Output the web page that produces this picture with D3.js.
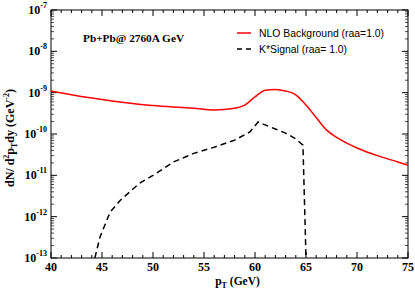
<!DOCTYPE html>
<html>
<head>
<meta charset="utf-8">
<script src="https://cdn.jsdelivr.net/npm/d3@7"></script>
<style>
  body { margin: 0; background: #fff; }
  svg { display: block; }
  .tick-label { font-family: "Liberation Serif", "Times New Roman", serif; font-weight: bold; font-size: 12px; }
  .legend { font-family: "Liberation Sans", Arial, sans-serif; font-size: 10.4px; }
</style>
</head>
<body>
<svg id="chart"></svg>
<script>
// chart size and plot frame
const W = 415, H = 289;
const margin = { top: 10, right: 7, bottom: 31, left: 51 };
const width = W - margin.left - margin.right;
const height = H - margin.top - margin.bottom;

// data (pT in GeV, yield in GeV^-2)
const bgPt = [40, 42, 44, 46, 48, 50, 52, 54, 56, 58, 59, 60, 61, 62, 63, 64, 65, 66, 67, 68, 69, 70, 72, 74, 75];
const bgYield = [1.1e-9, 8.9e-10, 7.4e-10, 6.3e-10, 5.5e-10, 4.9e-10, 4.5e-10, 4.2e-10, 3.8e-10, 4.2e-10,
                 5.0e-10, 7.9e-10, 1.15e-9, 1.2e-9, 1.1e-9, 8.9e-10, 5.0e-10, 2.5e-10, 1.26e-10, 8.3e-11,
                 6.0e-11, 4.6e-11, 3.0e-11, 2.1e-11, 1.75e-11];
const sigPt = [44.3, 44.8, 45.8, 46.8, 48.7, 50, 52, 54, 56, 58, 59.5, 60.3, 61, 62, 63, 64, 64.7, 65];
const sigYield = [1e-13, 3.2e-13, 1.3e-12, 2.5e-12, 6.5e-12, 1e-11, 2.1e-11, 3.4e-11, 4.8e-11, 7.1e-11,
                  1.12e-10, 1.95e-10, 1.66e-10, 1.32e-10, 1.05e-10, 7.6e-11, 5.4e-11, 1e-13];

const xTicks = [40, 45, 50, 55, 60, 65, 70, 75];
const yExps = [-13, -12, -11, -10, -9, -8, -7];

const svg = d3.select("#chart").attr("width", W).attr("height", H);
const g = svg.append("g").attr("transform", `translate(${margin.left},${margin.top})`);

const x = d3.scaleLinear().domain([40, 75]).range([0, width]);
const y = d3.scaleLog().domain([1e-13, 1e-7]).range([height, 0]);

// frame
g.append("rect").attr("width", width).attr("height", height)
  .attr("fill", "none").attr("stroke", "#000").attr("stroke-width", 1);

// x ticks (inside, on bottom and top)
const xMinor = d3.range(40, 76, 1);
xMinor.forEach(v => {
  const len = v % 5 === 0 ? 6 : 3;
  g.append("line").attr("x1", x(v)).attr("x2", x(v)).attr("y1", height).attr("y2", height - len)
    .attr("stroke", "#000");
  g.append("line").attr("x1", x(v)).attr("x2", x(v)).attr("y1", 0).attr("y2", len)
    .attr("stroke", "#000");
});
g.selectAll(".xlab").data(xTicks).join("text")
  .attr("class", "tick-label")
  .attr("x", d => x(d)).attr("y", height + 13)
  .attr("text-anchor", "middle")
  .text(d => d);

// y ticks (log, inside on left and right)
yExps.forEach(e => {
  const base = Math.pow(10, e);
  g.append("line").attr("x1", 0).attr("x2", 6).attr("y1", y(base)).attr("y2", y(base)).attr("stroke", "#000");
  g.append("line").attr("x1", width).attr("x2", width - 6).attr("y1", y(base)).attr("y2", y(base)).attr("stroke", "#000");
  if (e < -7) {
    for (let m = 2; m <= 9; m++) {
      const v = base * m;
      g.append("line").attr("x1", 0).attr("x2", 3).attr("y1", y(v)).attr("y2", y(v)).attr("stroke", "#000").attr("stroke-width", 0.7);
      g.append("line").attr("x1", width).attr("x2", width - 3).attr("y1", y(v)).attr("y2", y(v)).attr("stroke", "#000").attr("stroke-width", 0.7);
    }
  }
  const t = g.append("text").attr("class", "tick-label")
    .attr("x", -4).attr("y", y(base) + 4).attr("text-anchor", "end");
  t.append("tspan").text("10");
  t.append("tspan").attr("dy", -6).attr("font-size", 8).text(e);
});

// curves
g.append("path")
  .datum(bgPt.map((p, i) => [p, bgYield[i]]))
  .attr("d", d3.line().x(d => x(d[0])).y(d => y(d[1])).curve(d3.curveMonotoneX))
  .attr("fill", "none").attr("stroke", "#ff0000").attr("stroke-width", 1.5);
g.append("path")
  .datum(sigPt.map((p, i) => [p, sigYield[i]]))
  .attr("d", d3.line().x(d => x(d[0])).y(d => y(d[1])))
  .attr("fill", "none").attr("stroke", "#000").attr("stroke-width", 1.5)
  .attr("stroke-dasharray", "6,4");

// title text inside plot
g.append("text")
  .attr("x", 32).attr("y", 32)
  .attr("font-family", "Liberation Serif, Times New Roman, serif")
  .attr("font-weight", "bold").attr("font-size", 11.3)
  .text("Pb+Pb@ 2760A GeV");

// legend
const legend = svg.append("g").attr("class", "legend");
legend.append("line").attr("x1", 237).attr("x2", 251).attr("y1", 33).attr("y2", 33)
  .attr("stroke", "#ff0000").attr("stroke-width", 1.5);
legend.append("text").attr("x", 259).attr("y", 37).text("NLO Background (raa=1.0)");
legend.append("line").attr("x1", 237).attr("x2", 251).attr("y1", 49).attr("y2", 49)
  .attr("stroke", "#000").attr("stroke-width", 1.5).attr("stroke-dasharray", "5,4");
legend.append("text").attr("x", 259).attr("y", 53).text("K*Signal (raa= 1.0)");

// axis titles
const xt = svg.append("text").attr("class", "tick-label")
  .attr("x", margin.left + width / 2 + 8).attr("y", 285).attr("text-anchor", "middle")
  .style("font-size", "11.5px");
xt.append("tspan").text("p");
xt.append("tspan").attr("dy", 3).attr("font-size", 8).text("T");
xt.append("tspan").attr("dy", -3).text(" (GeV)");

const yt = svg.append("text").attr("class", "tick-label")
  .attr("transform", `translate(14,${margin.top + height / 2 + 4}) rotate(-90)`)
  .attr("text-anchor", "middle");
yt.append("tspan").text("dN/ d");
yt.append("tspan").attr("dy", -5).attr("font-size", 8).text("2");
yt.append("tspan").attr("dy", 5).text("p");
yt.append("tspan").attr("dy", 3).attr("font-size", 8).text("T");
yt.append("tspan").attr("dy", -3).text("dy (GeV");
yt.append("tspan").attr("dy", -5).attr("font-size", 8).text("-2");
yt.append("tspan").attr("dy", 5).text(")");
</script>
</body>
</html>
